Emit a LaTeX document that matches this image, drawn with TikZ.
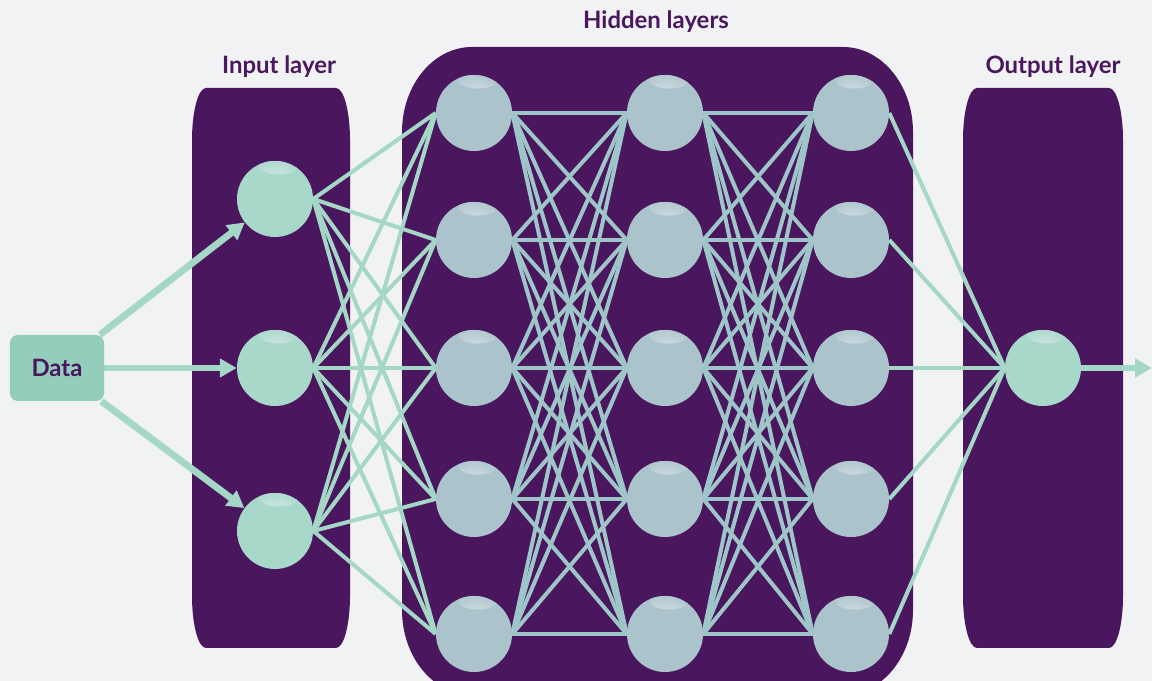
\documentclass[tikz,border=0pt]{standalone}
\usepackage{fontspec}
\setmainfont{Lato}
\usetikzlibrary{arrows.meta}

\definecolor{bgcol}{HTML}{F1F2F4}
\definecolor{panelcol}{HTML}{4A175F}
\definecolor{mintnode}{HTML}{A8D8CA}
\definecolor{hidnode}{HTML}{ABC4CB}
\definecolor{mintline}{HTML}{A5D7C7}
\definecolor{hidline}{HTML}{9EC6C8}
\definecolor{boxcol}{HTML}{92CEBB}
\definecolor{hilite}{HTML}{F4F2F8}

\pgfdeclarelayer{back}
\pgfdeclarelayer{edges}
\pgfsetlayers{back,edges,main}

% panel with elliptic corners: x1 y1 x2 y2 rx ry
\newcommand{\layerbox}[6]{%
  \fill[panelcol] (#1,#2+#6) -- (#1,#4-#6)
    arc[start angle=180,end angle=90,x radius=#5,y radius=#6] -- (#3-#5,#4)
    arc[start angle=90,end angle=0,x radius=#5,y radius=#6] -- (#3,#2+#6)
    arc[start angle=0,end angle=-90,x radius=#5,y radius=#6] -- (#1+#5,#2)
    arc[start angle=270,end angle=180,x radius=#5,y radius=#6] -- cycle;}

\tikzset{
  neuron/.style={circle, inner sep=0pt, minimum size=1.9cm, fill=#1,
    path picture={\shade[inner color=hilite, outer color=#1]
      ([xshift=0.1cm,yshift=-0.12cm]path picture bounding box.north) ellipse (0.5cm and 0.22cm);}},
  link/.style={line width=0.1cm, draw=#1},
  feed/.style={line width=0.17cm, draw=mintline, -{Triangle[length=0.42cm,width=0.45cm]}},
  databox/.style={fill=boxcol, rounded corners=0.2cm, minimum width=2.35cm,
    minimum height=1.65cm, text=panelcol, font=\bfseries\fontsize{17}{20}\selectfont},
  title/.style={text=panelcol, font=\bfseries\fontsize{17}{20}\selectfont}
}

\begin{document}
\begin{tikzpicture}[x=0.025cm, y=0.025cm]
  \useasboundingbox (0,0) rectangle (1152,681);

  \begin{pgfonlayer}{back}
    \fill[bgcol] (0,0) rectangle (1152,681);
    \layerbox{192}{33}{350}{593}{14}{52}
    \layerbox{402}{-14}{913}{634}{70}{85}
    \layerbox{963}{33}{1123}{593}{14}{52}
  \end{pgfonlayer}

  \node[title] (inlab) at (279,614) {Input layer};
  \node[title] (hidlab) at (656,659) {Hidden layers};
  \node[title] (outlab) at (1053,614) {Output layer};

  \node[databox] (data) at (57,313) {Data};

  \node[neuron=mintnode] (i1) at (275,482) {};
  \node[neuron=mintnode] (i2) at (275,313) {};
  \node[neuron=mintnode] (i3) at (275,150) {};

  \foreach \c/\x in {1/474,2/665,3/851}
    \foreach \r/\y in {1/568,2/441,3/313,4/182,5/47}
      \node[neuron=hidnode] (h\c\r) at (\x,\y) {};

  \node[neuron=mintnode] (out) at (1043,313) {};
  \coordinate (exit) at (1152,313);

  \begin{pgfonlayer}{edges}
    \foreach \i in {1,2,3}
      \foreach \r in {1,...,5}
        \draw[link=mintline] (i\i.east) -- (h1\r.west);
    \foreach \a/\b in {1/2,2/3}
      \foreach \r in {1,...,5}
        \foreach \s in {1,...,5}
          \draw[link=hidline] (h\a\r.east) -- (h\b\s.west);
    \foreach \r in {1,...,5}
      \draw[link=mintline] (h3\r.east) -- (out.west);

    \draw[feed] (data) -- (i1);
    \draw[feed] (data) -- (i2);
    \draw[feed] (data) -- (i3);
    \draw[feed] (out.east) -- (exit);
  \end{pgfonlayer}
\end{tikzpicture}
\end{document}
